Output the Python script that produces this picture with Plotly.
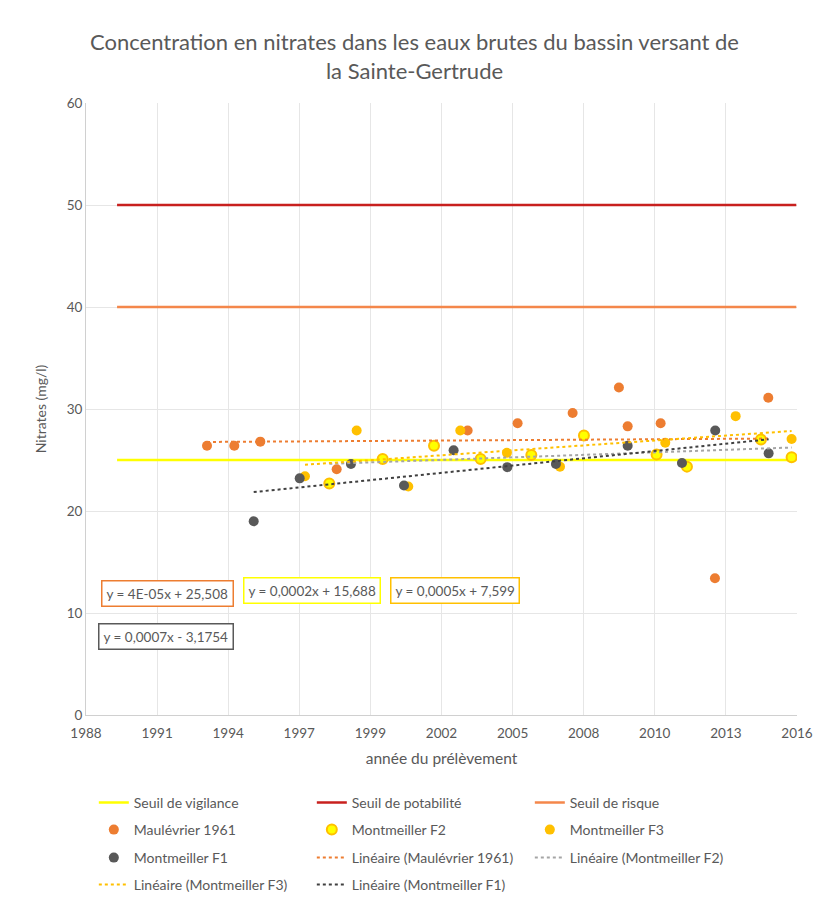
import numpy as np
import pandas as pd
import plotly.graph_objects as go

# --- data ------------------------------------------------------------------
maul_dates = ["1993-08-21", "1994-09-09", "1995-09-10", "1998-08-19", "2003-09-04",
              "2005-08-07", "2007-09-20", "2009-07-02", "2009-11-02", "2011-02-09",
              "2013-03-14", "2015-04-03"]
maul_vals = [26.4, 26.4, 26.8, 24.1, 27.9, 28.6, 29.6, 32.1, 28.3, 28.6, 13.4, 31.1]

f2_dates = ["1998-05-07", "2000-05-27", "2002-05-19", "2004-03-05", "2006-02-16",
            "2008-02-26", "2010-12-14", "2012-02-14", "2014-12-21", "2016-02-25"]
f2_vals = [22.7, 25.1, 26.4, 25.1, 25.5, 27.4, 25.55, 24.35, 27.0, 25.26]

f3_dates = ["1997-05-30", "1999-05-27", "2001-05-22", "2003-05-24", "2005-03-10",
            "2007-03-26", "2011-04-15", "2013-12-30", "2016-02-25"]
f3_vals = [23.4, 27.9, 22.4, 27.9, 25.7, 24.35, 26.7, 29.3, 27.06]

f1_dates = ["1995-06-09", "1997-03-17", "1999-03-08", "2001-03-23", "2003-02-19",
            "2005-03-15", "2007-01-28", "2009-11-02", "2011-12-06", "2013-03-18",
            "2015-04-08"]
f1_vals = [19.0, 23.2, 24.6, 22.5, 25.95, 24.3, 24.6, 26.4, 24.7, 27.9, 25.65]

seuil_dates = ["1990-03-05", "2016-05-01"]
seuil_vigilance = [25, 25]
seuil_potabilite = [50, 50]
seuil_risque = [40, 40]

tick_dates = ["1988-12-23", "1991-09-19", "1994-06-15", "1997-03-11", "1999-12-06",
              "2002-09-01", "2005-05-28", "2008-02-22", "2010-11-18", "2013-08-15",
              "2016-05-11"]
tick_labels = ["1988", "1991", "1994", "1997", "1999", "2002", "2005", "2008",
               "2010", "2013", "2016"]

equations = ["y = 4E-05x + 25,508", "y = 0,0002x + 15,688",
             "y = 0,0005x + 7,599", "y = 0,0007x - 3,1754"]

FONT = "Lato"
GREY = "#595959"
EXCEL_EPOCH = pd.Timestamp("1899-12-30")


def trend(dates, vals):
    # least-squares line over the series' own date span, like Excel's trendline
    d = pd.to_datetime(dates)
    serial = np.array([(t - EXCEL_EPOCH).days for t in d], dtype=float)
    slope, icpt = np.polyfit(serial, np.array(vals), 1)
    ends = np.array([serial.min(), serial.max()])
    xs = [EXCEL_EPOCH + pd.Timedelta(days=float(s)) for s in ends]
    return xs, list(slope * ends + icpt)


fig = go.Figure()

# threshold lines
fig.add_trace(go.Scatter(x=seuil_dates, y=seuil_vigilance, mode="lines", legend="legend",
                         name="Seuil de vigilance", line=dict(color="#FFFF00", width=2.5)))
fig.add_trace(go.Scatter(x=seuil_dates, y=seuil_potabilite, mode="lines", legend="legend",
                         name="Seuil de potabilité", line=dict(color="#C8201E", width=2.5)))
fig.add_trace(go.Scatter(x=seuil_dates, y=seuil_risque, mode="lines", legend="legend",
                         name="Seuil de risque", line=dict(color="#F4874B", width=2.5)))

# measurement points
fig.add_trace(go.Scatter(x=maul_dates, y=maul_vals, mode="markers", name="Maulévrier 1961",
                         legend="legend2",
                         marker=dict(color="#ED7D31", size=10, line=dict(width=0))))
fig.add_trace(go.Scatter(x=f2_dates, y=f2_vals, mode="markers", name="Montmeiller F2",
                         legend="legend2",
                         marker=dict(color="#FFFF00", size=10,
                                     line=dict(color="#FFC000", width=2))))
fig.add_trace(go.Scatter(x=f3_dates, y=f3_vals, mode="markers", name="Montmeiller F3",
                         legend="legend2",
                         marker=dict(color="#FFC000", size=10, line=dict(width=0))))
fig.add_trace(go.Scatter(x=f1_dates, y=f1_vals, mode="markers", name="Montmeiller F1",
                         legend="legend3",
                         marker=dict(color="#595959", size=10, line=dict(width=0))))

# linear trendlines
for name, dates, vals, col, leg in [
    ("Linéaire (Maulévrier 1961)", maul_dates, maul_vals, "#ED7D31", "legend3"),
    ("Linéaire (Montmeiller F2)", f2_dates, f2_vals, "#A5A5A5", "legend3"),
    ("Linéaire (Montmeiller F3)", f3_dates, f3_vals, "#FFC000", "legend4"),
    ("Linéaire (Montmeiller F1)", f1_dates, f1_vals, "#404040", "legend4"),
]:
    tx, ty = trend(dates, vals)
    fig.add_trace(go.Scatter(x=tx, y=ty, mode="lines", name=name, legend=leg,
                             line=dict(color=col, width=2, dash="dot")))

# trendline equation labels
for text, border, xp, yp in [
    (equations[0], "#ED7D31", 0.115, 0.199),
    (equations[1], "#FFFF00", 0.318, 0.203),
    (equations[2], "#FFC000", 0.519, 0.203),
    (equations[3], "#595959", 0.1125, 0.129),
]:
    fig.add_annotation(x=xp, y=yp, xref="paper", yref="paper", text=text,
                       xanchor="center", yanchor="middle",
                       showarrow=False, bordercolor=border, borderwidth=1.5,
                       borderpad=4, bgcolor="white",
                       font=dict(family=FONT, size=13.5, color=GREY))

# chart-area border on the right
fig.add_shape(type="line", xref="paper", yref="paper",
              x0=1.0253, x1=1.0253, y0=-0.32, y1=1.17,
              line=dict(color="#D0D0D0", width=1))

legend_style = dict(orientation="h", xanchor="left", yanchor="middle", x=0.011,
                    entrywidth=173, entrywidthmode="pixels", itemwidth=30,
                    bgcolor="rgba(0,0,0,0)",
                    font=dict(family=FONT, size=14, color=GREY))

fig.update_layout(
    width=813, height=899,
    margin=dict(l=78, r=24, t=95, b=192, autoexpand=False),
    paper_bgcolor="white", plot_bgcolor="white",
    font=dict(family=FONT, color=GREY, size=13),
    title=dict(text="Concentration en nitrates dans les eaux brutes du bassin versant de<br>la Sainte-Gertrude",
               x=0.5, xanchor="center", yref="container", y=0.953, yanchor="top",
               font=dict(family=FONT, size=22, color=GREY)),
    xaxis=dict(type="date", range=[tick_dates[0], tick_dates[-1]],
               tickmode="array", tickvals=tick_dates, ticktext=tick_labels,
               showgrid=True, gridcolor="#E6E6E6", gridwidth=1,
               showline=True, linecolor="#D0D0D0", linewidth=1,
               ticks="", ticklabelstandoff=6, tickfont=dict(size=13.5, color=GREY),
               title=dict(text="année du prélèvement", standoff=12,
                          font=dict(size=15.5, color=GREY)),
               zeroline=False),
    yaxis=dict(range=[0, 60], dtick=10, showgrid=True, gridcolor="#E6E6E6",
               showline=True, linecolor="#D0D0D0", linewidth=1,
               ticks="", tickfont=dict(size=13.5, color=GREY),
               title=dict(text="Nitrates (mg/l)", standoff=16,
                          font=dict(size=14, color=GREY)),
               zeroline=False),
    legend=dict(legend_style, y=(715 - 803) / 612),
    legend2=dict(legend_style, y=(715 - 830) / 612),
    legend3=dict(legend_style, y=(715 - 858) / 612),
    legend4=dict(legend_style, y=(715 - 885) / 612),
    showlegend=True,
)

fig.write_html("out.html")
